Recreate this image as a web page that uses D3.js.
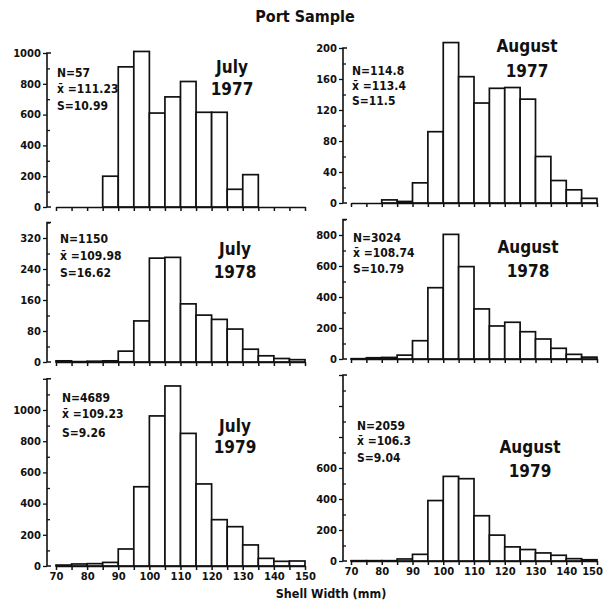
<!DOCTYPE html>
<html>
<head>
<meta charset="utf-8">
<script src="https://cdn.jsdelivr.net/npm/d3@7"></script>
<style>
  body { margin: 0; background: #fff; }
  text { font-family: "DejaVu Sans Condensed", "DejaVu Sans", sans-serif; font-weight: bold; fill: #111; }
</style>
</head>
<body>
<div id="chart"></div>
<script>
// lower edge of each 5 mm shell width class
var bins = [70,75,80,85,90,95,100,105,110,115,120,125,130,135,140,145]
var xTickLabels = [70,80,90,100,110,120,130,140,150]

// counts per class
var jul77 = [0,0,0,200,910,1010,610,715,815,615,615,115,210,0,0,0]
var aug77 = [0,0,4,2,26,92,207,163,129,148,149,134,60,29,17,6]
var jul78 = [3,1,2,3,28,106,268,270,150,121,110,85,33,16,9,6]
var aug78 = [2,8,10,25,118,460,804,596,323,213,237,176,129,69,30,12]
var jul79 = [6,13,15,23,109,508,962,1154,850,526,297,252,135,49,30,32]
var aug79 = [2,2,2,13,43,390,546,531,292,167,91,74,52,37,15,8]

var months = ["July","August","July","August","July","August"]
var years = ["1977","1977","1978","1978","1979","1979"]
var statN = ["57","114.8","1150","3024","4689","2059"]
var statMean = ["111.23","113.4","109.98","108.74","109.23","106.3"]
var statS = ["10.99","11.5","16.62","10.79","9.26","9.04"]

var width = 608, height = 605

var svg = d3.select("#chart").append("svg")
    .attr("width", width)
    .attr("height", height)

svg.append("text")
    .attr("x", 305).attr("y", 22)
    .attr("text-anchor", "middle")
    .style("font-size", "16px")
    .text("Port Sample")

svg.append("text")
    .attr("x", 331).attr("y", 598)
    .attr("text-anchor", "middle")
    .style("font-size", "12.5px")
    .text("Shell Width  (mm)")

// layout of the six panels
var panels = [
    {counts: jul77, col: 0, y0: 207, yMax: 53, dMax: 1000, major: 200, minor: 100, top: 1000, lab: 1000,
     stat: [57, 77, 93, 110], title: [232, 73, 95]},
    {counts: aug77, col: 1, y0: 203, yMax: 48, dMax: 200, major: 40, minor: 20, top: 200, lab: 200,
     stat: [352, 75, 90, 105], title: [527, 52, 77]},
    {counts: jul78, col: 0, y0: 362, yMax: 238, dMax: 320, major: 80, minor: 40, top: 360, lab: 320,
     stat: [60, 243, 260, 277], title: [235, 255, 278]},
    {counts: aug78, col: 1, y0: 359, yMax: 235, dMax: 800, major: 200, minor: 100, top: 900, lab: 800,
     stat: [353, 242, 257, 273], title: [528, 253, 277]},
    {counts: jul79, col: 0, y0: 566, yMax: 410, dMax: 1000, major: 200, minor: 100, top: 1200, lab: 1000,
     stat: [62, 402, 418, 437], title: [235, 432, 453], bottom: true},
    {counts: aug79, col: 1, y0: 561, yMax: 468, dMax: 600, major: 200, minor: 100, top: 1200, lab: 600,
     stat: [357, 430, 445, 462], title: [530, 453, 477], bottom: true}
]

var cols = [
    {axisX: 47, x0: 56, x1: 305},
    {axisX: 343, x0: 351, x1: 597}
]

panels.forEach(function(p, i) {
    var c = cols[p.col]
    var x = d3.scaleLinear().domain([70, 150]).range([c.x0, c.x1])
    var y = d3.scaleLinear().domain([0, p.dMax]).range([p.y0, p.yMax])
    var g = svg.append("g")

    // bars
    g.selectAll("rect")
        .data(bins.map(function(b, k) { return {b: b, v: p.counts[k]} }).filter(function(d) { return d.v > 0 }))
        .enter()
        .append("rect")
        .attr("x", function(d) { return x(d.b) })
        .attr("y", function(d) { return y(d.v) })
        .attr("width", function(d) { return x(d.b + 5) - x(d.b) })
        .attr("height", function(d) { return p.y0 - y(d.v) })
        .attr("fill", "#fff")
        .attr("stroke", "#111")
        .attr("stroke-width", 1.7)

    // x axis
    var xAxis = d3.axisBottom(x)
        .tickValues(bins.concat([150]))
        .tickSize(4)
        .tickSizeOuter(0)
        .tickFormat(function(d) { return p.bottom && xTickLabels.indexOf(d) >= 0 ? d : "" })
    var xg = g.append("g")
        .attr("transform", "translate(0," + p.y0 + ")")
        .call(xAxis)
    xg.selectAll("path, line").attr("stroke", "#111").attr("stroke-width", 1.5)
    xg.selectAll("text")
        .style("font-family", "DejaVu Sans, sans-serif")
        .style("font-weight", "bold")
        .style("font-size", "10px")
        .attr("fill", "#111")
    // last label on the right edge is pulled in so it stays on the page
    if (p.col == 1) xg.selectAll(".tick").filter(function(d) { return d == 150 })
        .select("text").attr("text-anchor", "end").attr("dx", "0.55em")

    // y axis: line with small hook on top and foot at the bottom
    var yTop = y(p.top)
    g.append("path")
        .attr("d", "M" + (c.axisX + 4) + "," + yTop + "H" + c.axisX + "V" + p.y0 + "H" + (c.axisX + 4))
        .attr("fill", "none")
        .attr("stroke", "#111")
        .attr("stroke-width", 1.6)

    var minorTicks = d3.range(0, p.top + 1, p.minor).filter(function(v) { return v % p.major != 0 })
    var majorTicks = d3.range(0, p.top + 1, p.major)

    var yMinor = d3.axisRight(y).tickValues(minorTicks).tickSize(3).tickFormat("")
    var ym = g.append("g").attr("transform", "translate(" + c.axisX + ",0)").call(yMinor)
    ym.select(".domain").remove()
    ym.selectAll("line").attr("stroke", "#111").attr("stroke-width", 1.3)

    var yMajor = d3.axisLeft(y).tickValues(majorTicks).tickSize(4).tickPadding(2)
        .tickFormat(function(d) { return d <= p.lab ? d : "" })
    var yM = g.append("g").attr("transform", "translate(" + c.axisX + ",0)").call(yMajor)
    yM.select(".domain").remove()
    yM.selectAll("line").attr("stroke", "#111").attr("stroke-width", 1.3)
    yM.selectAll("text")
        .style("font-family", "DejaVu Sans, sans-serif")
        .style("font-weight", "bold")
        .style("font-size", "10px")
        .attr("fill", "#111")

    // statistics block
    var st = ["N=" + statN[i], "x\u0304 =" + statMean[i], "S=" + statS[i]]
    st.forEach(function(t, k) {
        g.append("text")
            .attr("x", p.stat[0]).attr("y", p.stat[k + 1])
            .style("font-size", "12px")
            .text(t)
    })

    // month / year
    g.append("text")
        .attr("x", p.title[0]).attr("y", p.title[1])
        .attr("text-anchor", "middle")
        .style("font-size", "17px")
        .text(months[i])
    g.append("text")
        .attr("x", p.title[0]).attr("y", p.title[2])
        .attr("text-anchor", "middle")
        .style("font-size", "17px")
        .text(years[i])
})
</script>
</body>
</html>
